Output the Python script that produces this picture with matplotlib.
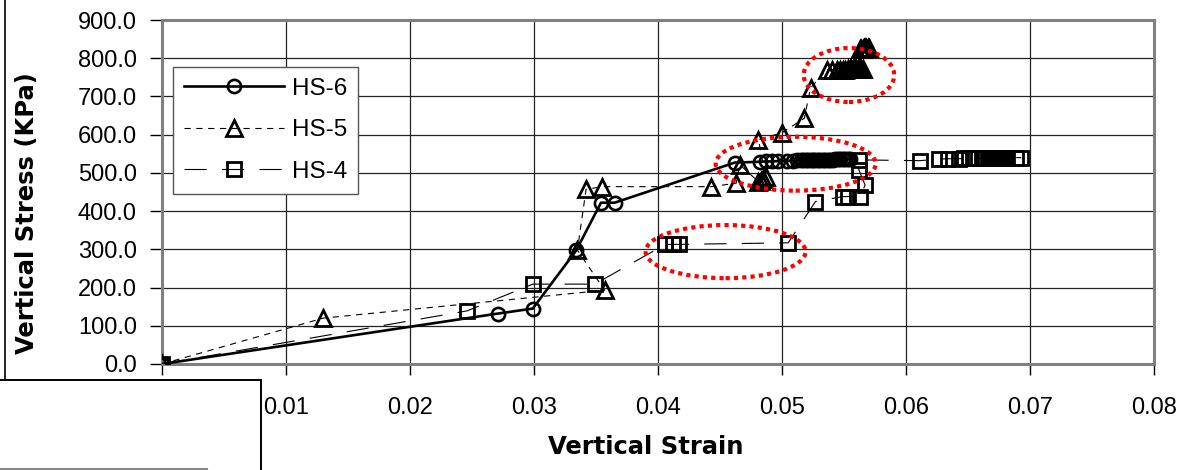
import matplotlib
matplotlib.use("Agg")
import matplotlib.pyplot as plt
from matplotlib.patches import Ellipse, Rectangle
from matplotlib.lines import Line2D

# ---------------- data ----------------
hs6_strain = [0.0, 0.0271, 0.0299, 0.0334, 0.0354, 0.0365, 0.0462,
              0.0482, 0.0487, 0.0492, 0.0497, 0.0504, 0.0509, 0.0512, 0.0515,
              0.0517, 0.0519, 0.0521, 0.0523, 0.0525, 0.0527, 0.0529, 0.0531,
              0.0533, 0.0535, 0.0537, 0.0539, 0.0541, 0.0543, 0.0545, 0.0547,
              0.0549, 0.0551, 0.0553, 0.0555]
hs6_stress = [0.0, 132, 145, 297, 422, 422, 527,
              529, 530, 530, 531, 531, 532, 533, 533,
              533, 533, 534, 534, 534, 534, 534, 535,
              535, 535, 535, 535, 535, 536, 536, 536,
              536, 536, 536, 536]

hs5_strain = [0.0, 0.0130, 0.0357, 0.0335, 0.0342, 0.0355, 0.0443, 0.0463,
              0.0466, 0.0481, 0.0483, 0.0485, 0.0487, 0.0481, 0.0500, 0.0518,
              0.0523,
              0.0536, 0.0540, 0.0544, 0.0547, 0.0549, 0.0551, 0.0553, 0.0555,
              0.0556, 0.0557, 0.0558, 0.0559, 0.0560, 0.0561, 0.0562, 0.0563,
              0.0564, 0.0565,
              0.0563, 0.0564, 0.0565, 0.0566, 0.0567, 0.0568, 0.0569, 0.0570]
hs5_stress = [0.0, 120, 193, 298, 457, 464, 464, 473,
              521, 477, 480, 484, 488, 587, 605, 643,
              722,
              770, 770, 770, 770, 770, 770, 771, 771,
              771, 771, 771, 771, 771, 771, 771, 771,
              771, 771,
              824, 825, 825, 826, 826, 827, 827, 828]

hs4_strain = [0.0, 0.0246, 0.0299, 0.0349, 0.0406, 0.0412, 0.0417, 0.0505,
              0.0527, 0.0549, 0.0553, 0.0563, 0.0567, 0.0562, 0.0562, 0.0611,
              0.0627, 0.0634, 0.0643, 0.0647, 0.0651, 0.0656, 0.0661, 0.0664,
              0.0666, 0.0667, 0.0668, 0.0669, 0.0670, 0.0671, 0.0672, 0.0673,
              0.0674, 0.0675, 0.0676, 0.0677, 0.0678, 0.0679, 0.0680, 0.0681,
              0.0689, 0.0693]
hs4_stress = [0.0, 139, 209, 209, 313, 313, 313, 317,
              425, 438, 438, 438, 468, 508, 534, 532,
              536, 537, 537, 538, 538, 538, 538, 539,
              539, 539, 539, 539, 539, 539, 539, 539,
              540, 540, 540, 540, 540, 540, 540, 540,
              540, 540]

series_labels = ["HS-6", "HS-5", "HS-4"]
x_ticks = [0, 0.01, 0.02, 0.03, 0.04, 0.05, 0.06, 0.07, 0.08]
x_ticklabels = ["0", "0.01", "0.02", "0.03", "0.04", "0.05", "0.06", "0.07", "0.08"]
y_ticks = [0, 100, 200, 300, 400, 500, 600, 700, 800, 900]
y_ticklabels = ["0.0", "100.0", "200.0", "300.0", "400.0", "500.0",
                "600.0", "700.0", "800.0", "900.0"]

# highlighted regions (annotation ellipses): centre x, centre y, width, height
highlight_x = [0.0554, 0.0511, 0.04545]
highlight_y = [756, 524, 294]
highlight_w = [0.0073, 0.0129, 0.0129]
highlight_h = [141, 141, 139]

# ---------------- figure ----------------
plt.rcParams['lines.scale_dashes'] = False
W, H = 1201, 470
fig = plt.figure(figsize=(W / 100, H / 100), dpi=100)
ax = fig.add_axes([162 / W, 1 - 364 / H, (1154 - 162) / W, (364 - 20) / H])

tick_font = dict(family="Liberation Sans", size=17)

ax.plot(hs6_strain, hs6_stress, color="black", lw=1.9, linestyle="-",
        marker="o", ms=9.5, mfc="none", mec="black", mew=1.9,
        label=series_labels[0], zorder=4)
ax.plot(hs5_strain, hs5_stress, color="black", lw=0.8, dashes=(4.5, 4),
        marker="^", ms=11.5, mfc="none", mec="black", mew=2.0,
        label=series_labels[1], zorder=4)
ax.plot(hs4_strain, hs4_stress, color="black", lw=0.8, dashes=(16, 11),
        marker="s", ms=9.5, mfc="none", mec="black", mew=2.0,
        label=series_labels[2], zorder=4)

for cx, cy, w, h in zip(highlight_x, highlight_y, highlight_w, highlight_h):
    ax.add_patch(Ellipse((cx, cy), w, h, fill=False, edgecolor="#ff0000",
                         lw=3.0, linestyle=(0, (3.0, 3.0)), capstyle="butt",
                         zorder=6))

ax.set_xlim(0, 0.08)
ax.set_ylim(0, 900)
ax.set_xticks(x_ticks)
ax.set_xticklabels(x_ticklabels, fontdict=tick_font)
ax.set_yticks(y_ticks)
ax.set_yticklabels(y_ticklabels, fontdict=tick_font)
ax.tick_params(axis="x", direction="out", length=8, width=1, pad=16, color="black")
ax.tick_params(axis="y", direction="out", length=9, width=1, pad=9, color="black")

ax.grid(True, color="#222222", lw=0.9)
ax.set_axisbelow(True)
for sp in ax.spines.values():
    sp.set_color("#808080")
    sp.set_linewidth(2.2)

ax.set_xlabel("Vertical Strain", family="DejaVu Sans", weight="bold", size=17.5)
ax.set_ylabel("Vertical Stress (KPa)", family="DejaVu Sans", weight="bold", size=17.5)
ax.xaxis.set_label_coords((646 - 162) / 992, (364 - 447) / 344)
ax.xaxis.label.set_va("center")
ax.yaxis.set_label_coords((27 - 162) / 992, (364 - 213) / 344)
ax.yaxis.label.set_va("center")

leg = ax.legend(loc="upper left", bbox_to_anchor=((173 - 162) / 992, (364 - 67) / 344),
                borderaxespad=0, prop=dict(family="Liberation Sans", size=17.5),
                handlelength=4.1, handletextpad=0.35, labelspacing=0.8,
                borderpad=0.45, numpoints=1, fancybox=False, framealpha=1,
                edgecolor="#555555")
leg.get_frame().set_linewidth(1.0)
leg.set_zorder(7)

# outer chart border on the left and covering box at bottom left
fig.add_artist(Line2D([5 / W, 5 / W], [1 - 380 / H, 1.0], color="black", lw=1.2))
fig.add_artist(Rectangle((-0.01, -0.01), 261 / W + 0.01, 1 - 380 / H + 0.01,
                         facecolor="white", edgecolor="black", lw=1.4, zorder=20))
fig.add_artist(Line2D([0, 207 / W], [1 - 469 / H, 1 - 469 / H], color="#888888",
                      lw=1.5, zorder=21))

fig.savefig("out.png", dpi=100)
